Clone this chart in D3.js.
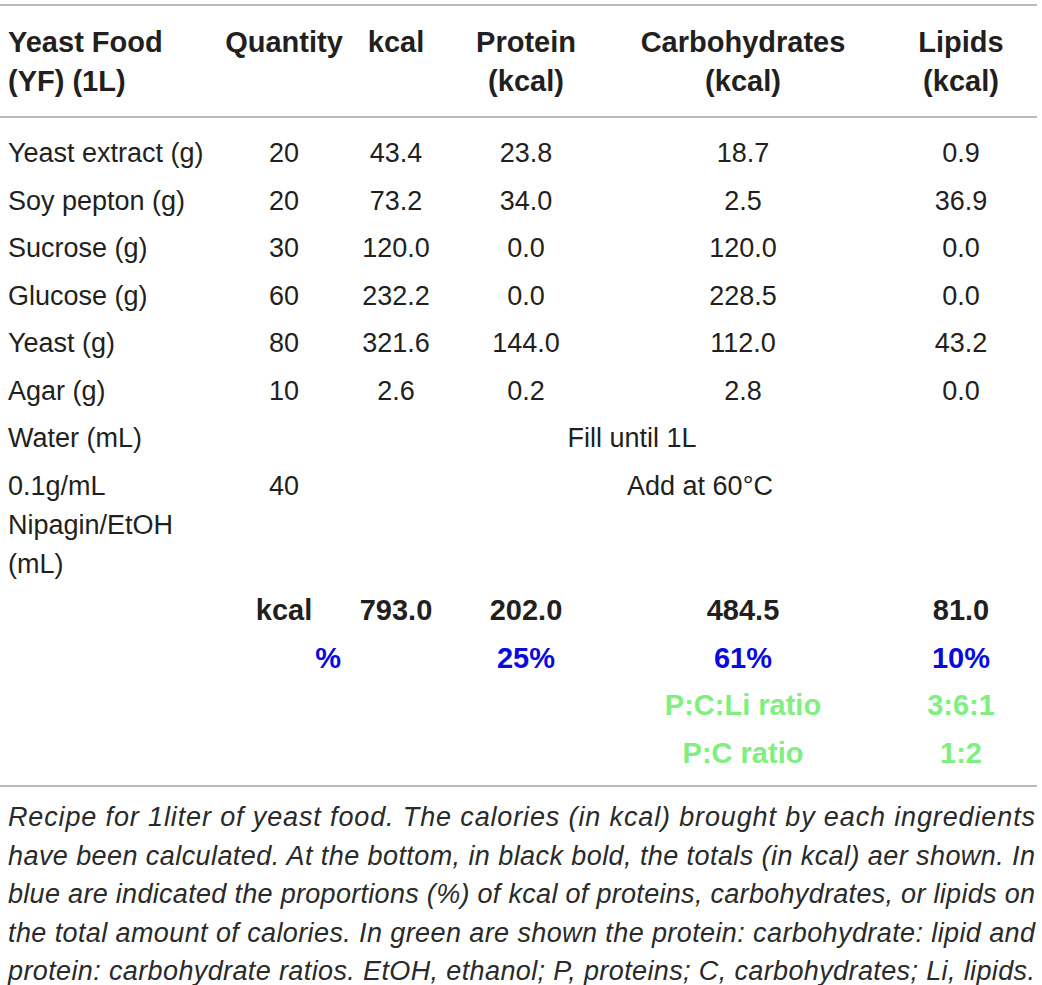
<!DOCTYPE html>
<html>
<head>
<meta charset="utf-8">
<script src="https://cdn.jsdelivr.net/npm/d3@7"></script>
<style>
  html, body { margin: 0; padding: 0; background: #fff; }
  svg { display: block; }
</style>
</head>
<body>
<svg id="chart" width="1042" height="985"></svg>
<script>
// ---------- DATA ----------
const columns = ["label", "quantity", "kcal", "protein", "carbs", "lipids"];
const headerLines = [
  ["Yeast Food", "(YF) (1L)"],
  ["Quantity"],
  ["kcal"],
  ["Protein", "(kcal)"],
  ["Carbohydrates", "(kcal)"],
  ["Lipids", "(kcal)"]
];
const ingredients = [
  ["Yeast extract (g)"],
  ["Soy pepton (g)"],
  ["Sucrose (g)"],
  ["Glucose (g)"],
  ["Yeast (g)"],
  ["Agar (g)"],
  ["Water (mL)"],
  ["0.1g/mL", "Nipagin/EtOH", "(mL)"]
];
const quantity = ["20", "20", "30", "60", "80", "10", "", "40"];
const kcal     = ["43.4", "73.2", "120.0", "232.2", "321.6", "2.6", "", ""];
const protein  = ["23.8", "34.0", "0.0", "0.0", "144.0", "0.2", "", ""];
const carbs    = ["18.7", "2.5", "120.0", "228.5", "112.0", "2.8", "", ""];
const lipids   = ["0.9", "36.9", "0.0", "0.0", "43.2", "0.0", "", ""];
const notes    = [{row: 6, text: "Fill until 1L", key: "fill"}, {row: 7, text: "Add at 60°C", key: "add"}];
const totalsLabel = "kcal";
const totals   = {kcal: "793.0", protein: "202.0", carbs: "484.5", lipids: "81.0"};
const pctLabel = "%";
const percents = {protein: "25%", carbs: "61%", lipids: "10%"};
const ratioLabels = ["P:C:Li ratio", "P:C ratio"];
const ratios = ["3:6:1", "1:2"];
const captionLines = [
  "Recipe for 1liter of yeast food. The calories (in kcal) brought by each ingredients",
  "have been calculated. At the bottom, in black bold, the totals (in kcal) aer shown. In",
  "blue are indicated the proportions (%) of kcal of proteins, carbohydrates, or lipids on",
  "the total amount of calories. In green are shown the protein: carbohydrate: lipid and",
  "protein: carbohydrate ratios. EtOH, ethanol; P, proteins; C, carbohydrates; Li, lipids."
];

// ---------- LAYOUT ----------
const W = 1042;
const FONT = "'Liberation Sans', Arial, Helvetica, sans-serif";
const TEXT = "#231f20";
const BLUE = "#0a0ae0";
const GREEN = "#7ff07f";
const RULE = "#a3a3a3";

const colX = d3.scaleOrdinal()
  .domain(columns)
  .range([8, 284, 396, 526, 743, 961]);
const noteX = d3.scaleOrdinal().domain(["fill", "add"]).range([632, 700]);
const qtyRight = 341;

const lineH = 39, rowH = 47.5;
const headerY = d3.scaleLinear().domain([0, 1]).range([52, 52 + lineH]);
const rowStarts = [];
let acc = 0;
ingredients.forEach(lines => { rowStarts.push(acc); acc += (lines.length - 1) * lineH + rowH; });
const bodyBase = 162;
const yBody = d3.scaleLinear().domain([0, 1]).range([bodyBase, bodyBase + 1]);
const totalsStart = acc;
const yTot = i => yBody(totalsStart + i * rowH);

const svg = d3.select("#chart");
svg.append("rect").attr("width", W).attr("height", 985).attr("fill", "#fff");

// rules
const rules = [5, 117, 786];
svg.selectAll("line.rule").data(rules).join("line")
  .attr("class", "rule")
  .attr("x1", 0).attr("x2", 1037)
  .attr("y1", d => d).attr("y2", d => d)
  .attr("stroke", RULE).attr("stroke-width", 1.6);

// header
const hdr = svg.append("g").attr("font-family", FONT).attr("font-weight", "bold")
  .attr("font-size", 29).attr("fill", TEXT);
headerLines.forEach((lines, ci) => {
  const key = columns[ci];
  hdr.selectAll(null).data(lines).join("text")
    .attr("x", colX(key))
    .attr("y", (d, i) => headerY(i))
    .attr("text-anchor", ci === 0 ? "start" : "middle")
    .text(d => d);
});

// body
const body = svg.append("g").attr("font-family", FONT).attr("font-size", 27).attr("fill", TEXT);
ingredients.forEach((lines, ri) => {
  body.selectAll(null).data(lines).join("text")
    .attr("x", colX("label"))
    .attr("y", (d, i) => yBody(rowStarts[ri] + i * lineH))
    .text(d => d);
});
const valueCols = {quantity, kcal, protein, carbs, lipids};
Object.entries(valueCols).forEach(([key, arr]) => {
  body.selectAll(null).data(arr.map((v, i) => ({v, i})).filter(d => d.v !== "")).join("text")
    .attr("x", colX(key))
    .attr("y", d => yBody(rowStarts[d.i]))
    .attr("text-anchor", "middle")
    .text(d => d.v);
});
body.selectAll(null).data(notes).join("text")
  .attr("x", d => noteX(d.key))
  .attr("y", d => yBody(rowStarts[d.row]))
  .attr("text-anchor", "middle")
  .text(d => d.text);

// totals
const tot = svg.append("g").attr("font-family", FONT).attr("font-weight", "bold").attr("font-size", 29);
tot.append("text").attr("x", colX("quantity")).attr("y", yTot(0))
  .attr("text-anchor", "middle").attr("fill", TEXT).text(totalsLabel);
tot.selectAll(null).data(Object.entries(totals)).join("text")
  .attr("x", d => colX(d[0])).attr("y", yTot(0))
  .attr("text-anchor", "middle").attr("fill", TEXT).text(d => d[1]);

tot.append("text").attr("x", qtyRight).attr("y", yTot(1))
  .attr("text-anchor", "end").attr("fill", BLUE).text(pctLabel);
tot.selectAll(null).data(Object.entries(percents)).join("text")
  .attr("x", d => colX(d[0])).attr("y", yTot(1))
  .attr("text-anchor", "middle").attr("fill", BLUE).text(d => d[1]);

tot.selectAll(null).data(ratioLabels).join("text")
  .attr("x", colX("carbs")).attr("y", (d, i) => yTot(2 + i))
  .attr("text-anchor", "middle").attr("fill", GREEN).text(d => d);
tot.selectAll(null).data(ratios).join("text")
  .attr("x", colX("lipids")).attr("y", (d, i) => yTot(2 + i))
  .attr("text-anchor", "middle").attr("fill", GREEN).text(d => d);

// caption
const capY = d3.scaleLinear().domain([0, 1]).range([826, 864.5]);
svg.append("g")
  .attr("font-family", "'Liberation Sans Narrow', 'Liberation Sans', Arial, sans-serif")
  .attr("font-style", "italic").attr("font-size", 27).attr("fill", "#2a2a2a")
  .selectAll("text").data(captionLines).join("text")
  .attr("x", 8).attr("y", (d, i) => capY(i))
  .attr("textLength", 1027).attr("lengthAdjust", "spacing")
  .text(d => d);
</script>
</body>
</html>
